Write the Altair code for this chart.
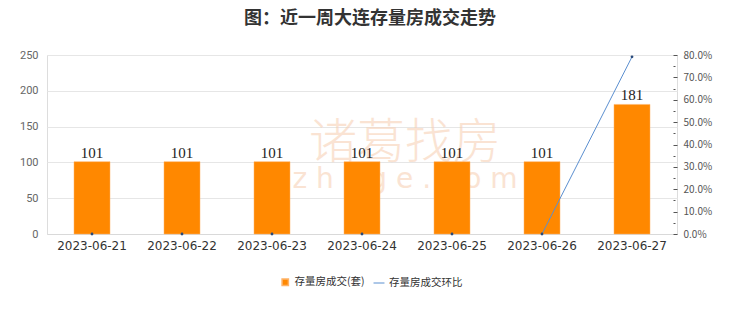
import altair as alt
import pandas as pd

dates = ["2023-06-21", "2023-06-22", "2023-06-23", "2023-06-24", "2023-06-25", "2023-06-26", "2023-06-27"]
volumes = [101, 101, 101, 101, 101, 101, 181]
ratios = [0.0, 0.0, 0.0, 0.0, 0.0, 0.0, 0.792]
ratio_ticks = [0, 0.05, 0.1, 0.15, 0.2, 0.25, 0.3, 0.35, 0.4, 0.45, 0.5, 0.55, 0.6, 0.65, 0.7, 0.75, 0.8]
volume_ticks = [0, 50, 100, 150, 200, 250]
bar_name = "存量房成交(套)"
line_name = "存量房成交环比"

df = pd.DataFrame({
    "date": dates,
    "volume": volumes,
    "ratio": ratios,
    "s1": [bar_name] * len(dates),
    "s2": [line_name] * len(dates),
})

FONT = "Noto Sans CJK SC"

xenc = alt.X("date:N", sort=dates, title=None,
             scale=alt.Scale(paddingInner=0.6, paddingOuter=0.3),
             axis=alt.Axis(labelAngle=0, labelFontSize=12, labelColor="#333333", labelFont="DejaVu Sans",
                           ticks=False, labelPadding=6, domainColor="#d9d9d9"))

base = alt.Chart(df).encode(x=xenc)

yscale_left = alt.Scale(domain=[0, 250], nice=False, zero=True)
yaxis_left = alt.Axis(values=volume_ticks, ticks=False, domain=False,
                      labelFontSize=11, labelColor="#666666", labelFont="Roboto", labelPadding=9,
                      gridColor="#e6e6e6", labelOverlap=False)

watermark = alt.Chart(pd.DataFrame({"t": ["诸葛找房"]})).mark_text(
    fontSize=48, font=FONT, fontWeight=300, color="#f8d2b6", opacity=0.6
).encode(x=alt.value(358), y=alt.value(89), text="t:N")
watermark2 = alt.Chart(pd.DataFrame({"t": ["z h u g e . c o m"]})).mark_text(
    fontSize=28, font="DejaVu Sans", color="#f8d2b6", opacity=0.6
).encode(x=alt.value(358), y=alt.value(125), text="t:N")

bars = base.mark_bar(stroke="#ffb366", strokeWidth=0.5).encode(
    y=alt.Y("volume:Q", title=None, scale=yscale_left, axis=yaxis_left),
    color=alt.Color("s1:N", title=None, scale=alt.Scale(range=["#ff8800"]),
                    legend=alt.Legend(orient="none", legendX=233, legendY=222, symbolType="square",
                                      symbolSize=40, labelFontSize=10.5, labelFont=FONT,
                                      labelColor="#333333")),
)

labels = base.mark_text(dy=-9, fontSize=15, color="#222222", font="Liberation Serif").encode(
    y=alt.Y("volume:Q", title=None, scale=yscale_left, axis=yaxis_left), text=alt.Text("volume:Q"))

left = alt.layer(watermark, watermark2, bars, labels)

yscale_right = alt.Scale(domain=[0, 0.8], nice=False, zero=True)
yaxis_right = alt.Axis(orient="right", values=ratio_ticks, format=".1%",
                       labelExpr="round(datum.value * 20) % 2 == 0 ? datum.label : ''",
                       grid=False, domain=False, offset=-4, tickColor="#555555",
                       tickSize={"condition": {"test": "round(datum.value * 20) % 2 == 0", "value": 4},
                                 "value": 2},
                       labelFontSize=10, labelColor="#555555", labelFont=FONT, labelPadding=6,
                       labelOverlap=False)

line = base.transform_filter("datum.date >= '2023-06-26'").mark_line(strokeWidth=1).encode(
    y=alt.Y("ratio:Q", title=None, scale=yscale_right, axis=yaxis_right),
    stroke=alt.Stroke("s2:N", title=None, scale=alt.Scale(range=["#5b8fd0"]),
                      legend=alt.Legend(orient="none", legendX=326, legendY=222, symbolType="stroke",
                                        symbolStrokeWidth=1, symbolSize=120, labelFontSize=10.5,
                                        labelFont=FONT, labelColor="#333333")),
)
points = base.mark_point(filled=True, size=8, color="#2a4a7a", opacity=1).encode(
    y=alt.Y("ratio:Q", title=None, scale=yscale_right, axis=yaxis_right))

right = alt.layer(line, points)

chart = alt.layer(left, right).resolve_scale(y="independent").properties(
    width=630, height=179,
    autosize=alt.AutoSizeParams(type="none"),
    padding={"left": 47, "top": 55, "right": 63, "bottom": 78},
    title=alt.TitleParams("图：近一周大连存量房成交走势", font=FONT, fontSize=18, fontWeight="bold",
                          color="#333333", anchor="middle", dx=8, offset=21),
).configure_view(stroke="#e6e6e6").configure(background="white")

chart.save("out.html", embed_options={"renderer": "svg", "actions": False})
